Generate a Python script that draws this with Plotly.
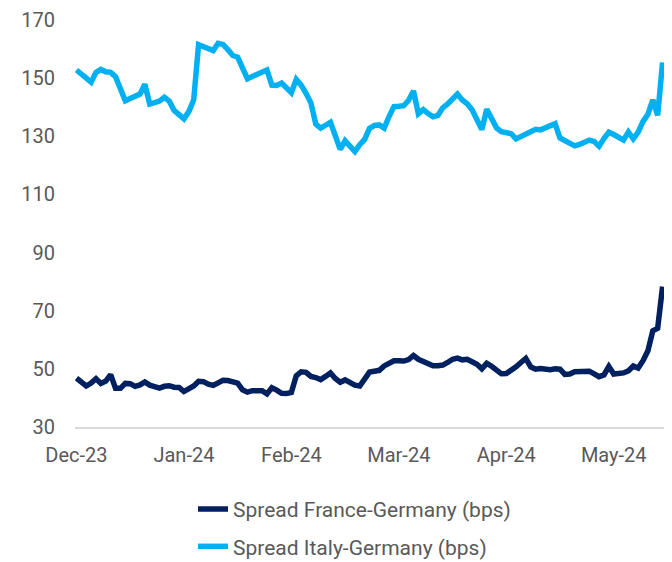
import plotly.graph_objects as go

# Tick labels shown every 22 observations
tick_labels = ["Dec-23", "Jan-24", "Feb-24", "Mar-24", "Apr-24", "May-24"]
label_step = 22

france_germany = [
    46.8, 45.6, 44.1, 45.1, 46.6, 45.0, 45.8, 48.0, 43.3, 43.3,
    45.0, 44.9, 44.0, 44.5, 45.5, 44.4, 43.7, 43.4, 44.0, 44.2,
    43.7, 43.6, 42.2, 43.2, 44.1, 45.7, 45.6, 44.7, 44.3, 45.2,
    46.1, 46.0, 45.7, 45.1, 42.8, 42.0, 42.5, 42.5, 42.5, 41.4,
    43.5, 42.7, 41.6, 41.5, 41.9, 47.6, 49.0, 48.8, 47.4, 47.0,
    46.3, 47.4, 48.6, 46.7, 45.4, 46.2, 45.3, 44.4, 44.1, 46.2,
    48.9, 49.2, 49.5, 51.0, 51.7, 52.8, 52.8, 52.7, 53.2, 54.6,
    53.3, 52.5, 51.7, 51.1, 51.1, 51.3, 52.2, 53.3, 53.7, 53.1,
    53.3, 52.6, 51.6, 50.0, 51.9, 50.9, 49.6, 48.3, 48.4, 49.3,
    50.7, 52.2, 53.6, 50.7, 49.9, 50.1, 49.9, 49.7, 50.0, 49.9,
    48.1, 48.2, 49.0, 49.0, 49.1, 49.2, 48.3, 47.3, 47.9, 50.8,
    48.2, 48.4, 48.6, 49.3, 51.0, 50.3, 52.8, 56.2, 63.1, 64.0,
    78.3,
]

italy_germany = [
    152.8, 151.4, 150.0, 148.6, 152.0, 153.0, 152.2, 152.0, 150.5, 146.4,
    142.2, 143.0, 143.7, 144.5, 147.9, 141.1, 141.6, 142.1, 143.4, 142.1,
    138.9, 137.3, 136.0, 138.5, 142.5, 161.5, 160.9, 159.8, 159.5, 162.0,
    161.6, 159.8, 157.8, 157.2, 152.9, 149.8, 150.6, 151.4, 151.7, 152.8,
    147.6, 147.5, 148.3, 146.6, 145.0, 149.6, 147.6, 144.8, 141.5, 134.2,
    132.8, 133.8, 134.8, 130.2, 125.5, 128.5, 126.9, 124.7, 127.1, 128.9,
    132.7, 133.7, 133.9, 132.8, 136.8, 140.2, 140.3, 140.5, 142.4, 145.6,
    137.8, 139.2, 137.8, 136.7, 137.2, 139.8, 141.1, 142.7, 144.5, 142.5,
    141.2, 139.1, 135.7, 132.3, 139.3, 136.0, 132.9, 131.6, 131.3, 130.9,
    129.1, 130.0, 130.9, 131.9, 132.4, 132.2, 132.9, 133.6, 134.3, 129.4,
    128.6, 127.6, 126.7, 127.2, 127.8, 128.7, 128.2, 126.6, 129.2, 131.4,
    130.6, 129.9, 128.7, 131.5, 129.1, 131.4, 135.1, 137.6, 142.5, 137.2,
    155.4,
]

y_ticks = [30, 50, 70, 90, 110, 130, 150, 170]

obs = list(range(len(france_germany)))
tick_pos = [i * label_step for i in range(len(tick_labels))]

FONT = "Roboto, Arial, sans-serif"
TXT = "#595959"

fig = go.Figure()
fig.add_trace(go.Scatter(
    x=obs, y=france_germany, mode="lines",
    name="Spread France-Germany (bps)",
    line=dict(color="#002060", width=5.5),
    legendgroup="fr",
))
fig.add_trace(go.Scatter(
    x=obs, y=italy_germany, mode="lines",
    name="Spread Italy-Germany (bps)",
    line=dict(color="#00B0F0", width=5.5),
    legendgroup="it",
))

# page body adds an 8px offset, so the figure is 8px smaller each way
fig.update_layout(
    width=664, height=554,
    margin=dict(l=67, r=7, t=12, b=135, autoexpand=False),
    paper_bgcolor="white", plot_bgcolor="white",
    font=dict(family=FONT, size=20, color=TXT),
    showlegend=True,
    legend=dict(
        orientation="v", x=0.2, xanchor="left", y=-0.152, yanchor="top",
        traceorder="grouped", tracegroupgap=7,
        font=dict(family=FONT, size=21, color=TXT),
        bgcolor="rgba(0,0,0,0)",
    ),
    xaxis=dict(
        range=[-0.3, len(obs) - 1 + 0.5],
        tickmode="array", tickvals=tick_pos, ticktext=tick_labels,
        showgrid=False, zeroline=False,
        showline=True, linecolor="#D9D9D9", linewidth=2,
        ticks="outside", ticklen=9, tickcolor="rgba(0,0,0,0)",
        tickfont=dict(family=FONT, size=20, color=TXT),
        automargin=False,
    ),
    yaxis=dict(
        range=[30, 170], tickmode="array", tickvals=y_ticks,
        showgrid=False, zeroline=False, showline=False,
        ticks="outside", ticklen=15, tickcolor="rgba(0,0,0,0)",
        tickfont=dict(family=FONT, size=20, color=TXT),
        automargin=False,
    ),
)

fig.write_html("out.html")
